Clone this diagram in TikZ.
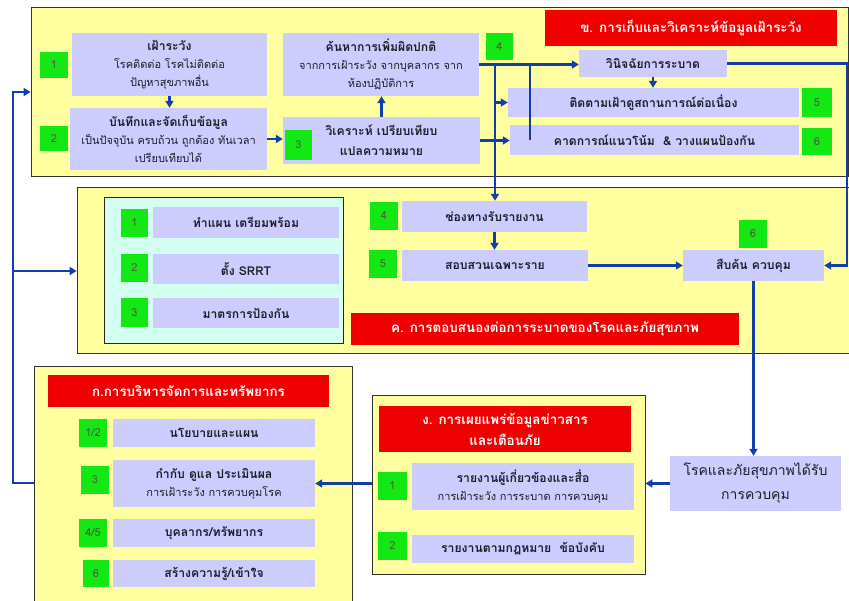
\documentclass[tikz,border=0pt]{standalone}
\usepackage{fontspec}
\setmainfont[Script=Thai]{Loma}
\usetikzlibrary{arrows.meta}
\definecolor{ylw}{RGB}{255,255,160}
\definecolor{lav}{RGB}{204,204,255}
\definecolor{grn}{RGB}{20,232,20}
\definecolor{cyn}{RGB}{210,255,240}
\definecolor{redc}{RGB}{240,0,0}
\definecolor{arrc}{RGB}{18,62,170}
\definecolor{txt}{RGB}{30,30,40}
\definecolor{numc}{RGB}{80,90,60}
\newcommand\ttl{\bfseries\fontsize{12.2}{18}\selectfont}
\newcommand\subt{\mdseries\fontsize{11}{18}\selectfont}
\newcommand\redf{\bfseries\fontsize{13.4}{21}\selectfont}
\newcommand\numf{\mdseries\fontsize{11}{13}\selectfont}
\newcommand\ctrlf{\mdseries\fontsize{14}{24}\selectfont}
\newcommand\boxat[7]{%
  \node[#1, minimum width={(#5)-(#3)}, minimum height={(#6)-(#4)}] (#2) at ({((#3)+(#5))/2},{((#4)+(#6))/2}) {#7};}
\tikzset{
  panel/.style={draw=black!80, fill=ylw, line width=0.8pt, inner sep=0pt},
  cpanel/.style={draw=black!85, fill=cyn, line width=0.8pt, inner sep=0pt},
  lavbox/.style={fill=lav, text=txt, align=center, inner sep=0pt, font=\subt},
  tallbox/.style={lavbox, font=\fontsize{11}{20}\selectfont},
  ctrlbox/.style={lavbox, font=\ctrlf},
  grnbox/.style={fill=grn, text=numc, inner sep=0pt, font=\numf},
  redbox/.style={fill=redc, text=white, align=center, inner sep=0pt, font=\redf},
  arr/.style={draw=arrc, line width=2.3pt, -{Triangle[length=7pt,width=8pt]}},
  ln/.style={draw=arrc, line width=2.3pt},
}
\begin{document}
\begin{tikzpicture}[x=1pt,y=-1pt]
\useasboundingbox (0,0) rectangle (849,601);
% panels
\boxat{panel}{pT}{31}{7}{848}{176}{}
\boxat{panel}{pM}{77}{187}{849}{353}{}
\boxat{panel}{pA}{34}{366}{352}{603}{}
\boxat{panel}{pD}{372}{395}{645}{574}{}
\boxat{cpanel}{pC}{104}{197}{343}{343}{}
% red titles
\boxat{redbox}{rB}{545}{10}{837}{46}{ข. การเก็บและวิเคราะห์ข้อมูลเฝ้าระวัง}
\boxat{redbox}{rC}{351}{313}{739}{345}{ค. การตอบสนองต่อการระบาดของโรคและภัยสุขภาพ}
\boxat{redbox}{rA}{48}{375}{329}{407}{ก.การบริหารจัดการและทรัพยากร}
\boxat{redbox}{rD}{379}{406}{631}{452}{ง. การเผยแพร่ข้อมูลข่าวสาร\\และเตือนภัย}
% top panel boxes
\boxat{lavbox}{b1}{72}{33}{267}{96}{{\ttl เฝ้าระวัง}\\{\subt โรคติดต่อ โรคไม่ติดต่อ}\\{\subt ปัญหาสุขภาพอื่น}}
\boxat{lavbox}{b2}{70}{108}{267}{170}{{\ttl บันทึกและจัดเก็บข้อมูล}\\{\subt เป็นปัจจุบัน ครบถ้วน ถูกต้อง ทันเวลา}\\{\subt เปรียบเทียบได้}}
\boxat{lavbox}{b4}{283}{33}{479}{96}{{\ttl ค้นหาการเพิ่มผิดปกติ}\\{\subt จากการเฝ้าระวัง จากบุคลากร จาก}\\{\subt ห้องปฏิบัติการ}}
\boxat{tallbox}{b3}{283}{117}{480}{164}{{\ttl วิเคราะห์ เปรียบเทียบ}\\{\ttl แปลความหมาย}}
\boxat{lavbox}{dg}{579}{50}{727}{77}{\ttl วินิจฉัยการระบาด}
\boxat{lavbox}{b5}{508}{88}{799}{117}{\ttl ติดตามเฝ้าดูสถานการณ์ต่อเนื่อง}
\boxat{lavbox}{b6}{510}{125}{799}{155}{\ttl คาดการณ์แนวโน้ม \ \& วางแผนป้องกัน}
\boxat{grnbox}{gt1}{40}{52}{68}{78}{1}
\boxat{grnbox}{gt2}{40}{126}{68}{151}{2}
\boxat{grnbox}{gt3}{285}{130}{312}{160}{3}
\boxat{grnbox}{gt4}{486}{33}{513}{60}{4}
\boxat{grnbox}{gt5}{802}{88}{832}{117}{5}
\boxat{grnbox}{gt6}{802}{128}{832}{155}{6}
% middle panel boxes
\boxat{lavbox}{c1}{153}{207}{339}{238}{\ttl ทำแผน เตรียมพร้อม}
\boxat{lavbox}{c2}{153}{254}{339}{284}{\ttl ตั้ง SRRT}
\boxat{lavbox}{c3}{153}{298}{339}{328}{\ttl มาตรการป้องกัน}
\boxat{lavbox}{c4}{402}{201}{587}{232}{\ttl ช่องทางรับรายงาน}
\boxat{lavbox}{c5}{402}{250}{588}{281}{\ttl สอบสวนเฉพาะราย}
\boxat{lavbox}{c6}{683}{250}{824}{281}{\ttl สืบค้น ควบคุม}
\boxat{grnbox}{gc1}{121}{209}{148}{237}{1}
\boxat{grnbox}{gc2}{121}{254}{148}{282}{2}
\boxat{grnbox}{gc3}{121}{298}{148}{327}{3}
\boxat{grnbox}{gc4}{370}{202}{398}{230}{4}
\boxat{grnbox}{gc5}{369}{250}{397}{278}{5}
\boxat{grnbox}{gc6}{739}{220}{767}{248}{6}
% bottom right
\boxat{ctrlbox}{ctrl}{670}{456}{841}{511}{โรคและภัยสุขภาพได้รับ\\การควบคุม}
% panel D
\boxat{lavbox}{d1}{412}{463}{634}{510}{{\ttl รายงานผู้เกี่ยวข้องและสื่อ}\\{\subt การเฝ้าระวัง การระบาด การควบคุม}}
\boxat{lavbox}{d2}{412}{535}{634}{563}{\ttl รายงานตามกฎหมาย\ \ ข้อบังคับ}
\boxat{grnbox}{gd1}{378}{472}{407}{500}{1}
\boxat{grnbox}{gd2}{378}{532}{407}{560}{2}
% panel A
\boxat{lavbox}{a1}{113}{419}{315}{447}{\ttl นโยบายและแผน}
\boxat{lavbox}{a3}{113}{460}{315}{507}{{\ttl กำกับ ดูแล ประเมินผล}\\{\subt การเฝ้าระวัง การควบคุมโรค}}
\boxat{lavbox}{a45}{113}{519}{315}{547}{\ttl บุคลากร/ทรัพยากร}
\boxat{lavbox}{a6}{113}{560}{315}{587}{\ttl สร้างความรู้/เข้าใจ}
\boxat{grnbox}{ga1}{79}{419}{107}{447}{1/2}
\boxat{grnbox}{ga3}{81}{466}{109}{494}{3}
\boxat{grnbox}{ga45}{79}{519}{107}{547}{4/5}
\boxat{grnbox}{ga6}{83}{560}{109}{587}{6}
% helper coordinates
\coordinate (v1) at (495,0);
\coordinate (v2) at (530,0);
\coordinate (vr) at (847,0);
\coordinate (lb) at (13,483);
\coordinate (lt) at (13,92);
\coordinate (lm) at (13,271);
% connectors
\draw[arr] (b1.south) -- (b1.south |- b2.north);
\draw[arr] (b2.east) -- (b2.east -| b3.west);
\draw[arr] (b3.north) -- (b3.north |- b4.south);
\draw[arr] (b4.east) -- (b4.east -| dg.west);
\draw[ln] (b4.east -| v2) -- (b3.east -| v2);
\draw[arr] (b3.east) -- (b3.east -| b6.west);
\draw[arr] (b4.east -| v1) -- (c4.north -| v1);
\draw[arr] (b5.west -| v1) -- (b5.west);
\draw[arr] (dg.south) -- (dg.south |- b5.north);
\draw[arr] (dg.east) -- (dg.east -| vr) -- (c6.east -| vr) -- (c6.east);
\draw[arr] (c4.south) -- (c4.south |- c5.north);
\draw[arr] (c5.east) -- (c6.west);
\draw[arr] (c6.south) -- (c6.south |- ctrl.north);
\draw[arr] (ctrl.west) -- (ctrl.west -| pD.east);
\draw[arr] (pD.west |- a3.east) -- (a3.east);
\draw[arr] (pA.west |- lb) -- (lb) -- (lt) -- (pT.west |- lt);
\draw[arr] (lm) -- (pM.west |- lm);
\end{tikzpicture}
\end{document}
